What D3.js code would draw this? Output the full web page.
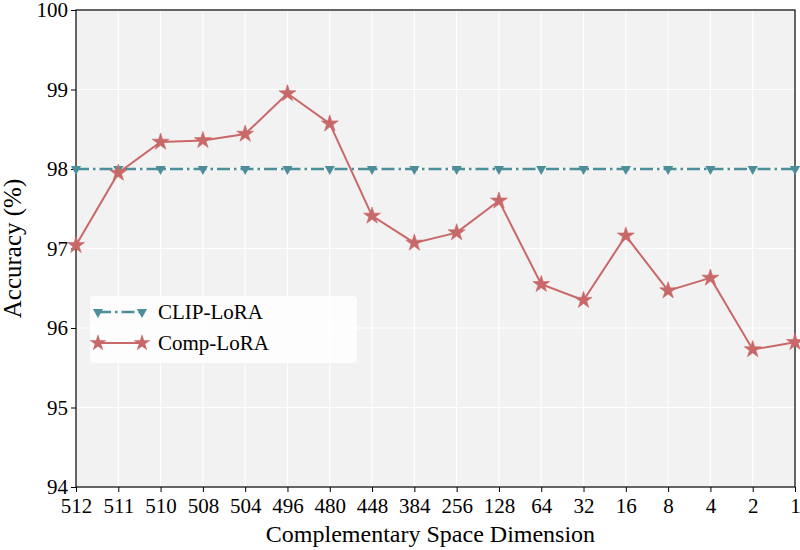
<!DOCTYPE html>
<html>
<head>
<meta charset="utf-8">
<script src="https://cdn.jsdelivr.net/npm/d3@7"></script>
<style>
  body { margin: 0; background: #fff; }
</style>
</head>
<body>
<div class="chart"></div>
<script>
const dims = ['512','511','510','508','504','496','480','448','384','256','128','64','32','16','8','4','2','1'];
const clipLora = [98,98,98,98,98,98,98,98,98,98,98,98,98,98,98,98,98,98];
const compLora = [97.04,97.95,98.34,98.36,98.44,98.95,98.57,97.41,97.07,97.20,97.60,96.55,96.35,97.16,96.47,96.63,95.73,95.82];
const yTicks = [94,95,96,97,98,99,100];

const FONT = '"Liberation Serif", "Times New Roman", serif';
const margin = ({top:10,right:5,bottom:63,left:76});
const width = 800 - margin.left - margin.right;
const height = 550 - margin.top - margin.bottom;

const teal = '#4d8e9b';
const red = '#c96868';

const xScale = d3.scalePoint().domain(dims).range([0,width]).padding(0);
const yScale = d3.scaleLinear().domain([94,100]).range([height,0]);

const svg = d3.select('.chart')
    .append('svg')
    .attr('width',800)
    .attr('height',550)
    .attr('font-family',FONT)
    .append('g')
    .attr('transform', `translate(${margin.left},${margin.top})`);

svg.append('rect')
    .attr('width',width)
    .attr('height',height)
    .attr('fill','#f2f2f2');

// grid
svg.selectAll('.vgrid')
    .data(dims)
    .enter()
    .append('line')
    .attr('x1',d=>xScale(d)).attr('x2',d=>xScale(d))
    .attr('y1',0).attr('y2',height)
    .attr('stroke','#fff').attr('stroke-width',1.2);
svg.selectAll('.hgrid')
    .data(yTicks)
    .enter()
    .append('line')
    .attr('x1',0).attr('x2',width)
    .attr('y1',d=>yScale(d)).attr('y2',d=>yScale(d))
    .attr('stroke','#fff').attr('stroke-width',1.2);

const xAxis = d3.axisBottom(xScale).tickSizeOuter(0).tickSize(5).tickPadding(6);
const yAxis = d3.axisLeft(yScale).tickValues(yTicks).tickFormat(d3.format('d')).tickSizeOuter(0).tickSize(5).tickPadding(3);

const gx = svg.append('g')
    .attr('transform',`translate(0,${height})`)
    .call(xAxis);
const gy = svg.append('g').call(yAxis);
[gx,gy].forEach(g => {
    g.attr('font-family',FONT).attr('font-size',21);
    g.select('.domain').remove();
    g.selectAll('line').attr('stroke','#000').attr('stroke-width',1);
    g.selectAll('text').attr('fill','#000').attr('font-family',FONT);
});

// frame
svg.append('rect')
    .attr('width',width)
    .attr('height',height)
    .attr('fill','none')
    .attr('stroke','#000')
    .attr('stroke-width',1.2);

const line = d3.line()
    .x((d,i)=>xScale(dims[i]))
    .y(d=>yScale(d));

svg.append('path')
    .datum(clipLora)
    .attr('d',line)
    .attr('fill','none')
    .attr('stroke',teal)
    .attr('stroke-width',2.5)
    .attr('stroke-dasharray','13,4,2.5,4');

svg.append('path')
    .datum(compLora)
    .attr('d',line)
    .attr('fill','none')
    .attr('stroke',red)
    .attr('stroke-width',2);

const tri = d3.symbol().type(d3.symbolTriangle).size(45);
const star = d3.symbol().type(d3.symbolStar).size(90);

svg.selectAll('.tri')
    .data(clipLora)
    .enter()
    .append('path')
    .attr('d',tri)
    .attr('transform',(d,i)=>`translate(${xScale(dims[i])},${yScale(d)}) rotate(180)`)
    .attr('fill',teal);

svg.selectAll('.star')
    .data(compLora)
    .enter()
    .append('path')
    .attr('d',star)
    .attr('transform',(d,i)=>`translate(${xScale(dims[i])},${yScale(d)})`)
    .attr('fill',red)
    .attr('stroke',red)
    .attr('stroke-width',0.6);

// axis labels
svg.append('text')
    .attr('x',width/2 - 5)
    .attr('y',height+55)
    .attr('text-anchor','middle')
    .attr('font-family',FONT)
    .attr('font-size',24)
    .text('Complementary Space Dimension');

svg.append('text')
    .attr('transform',`translate(${-55},${height/2}) rotate(-90)`)
    .attr('text-anchor','middle')
    .attr('font-family',FONT)
    .attr('font-size',25)
    .text('Accuracy (%)');

// legend
const legend = svg.append('g').attr('transform','translate(14,286)');
legend.append('rect')
    .attr('width',267)
    .attr('height',67)
    .attr('rx',4)
    .attr('fill','#fff')
    .attr('opacity',0.8);

const legendItems = [
    {name:'CLIP-LoRA', color:teal, dash:'13,4,2.5,4', sym:tri, rot:180, w:2.5},
    {name:'Comp-LoRA', color:red, dash:null, sym:star, rot:0, w:2}
];
legendItems.forEach((d,i) => {
    const gy = 16 + i*31;
    const g = legend.append('g').attr('transform',`translate(0,${gy})`);
    g.append('line')
        .attr('x1',8).attr('x2',52)
        .attr('stroke',d.color)
        .attr('stroke-width',d.w)
        .attr('stroke-dasharray',d.dash);
    [8,52].forEach(x => {
        g.append('path')
            .attr('d',d.sym)
            .attr('transform',`translate(${x},0) rotate(${d.rot})`)
            .attr('fill',d.color);
    });
    g.append('text')
        .attr('x',68)
        .attr('dy','0.35em')
        .attr('font-family',FONT)
        .attr('font-size',21)
        .text(d.name);
});
</script>
</body>
</html>
